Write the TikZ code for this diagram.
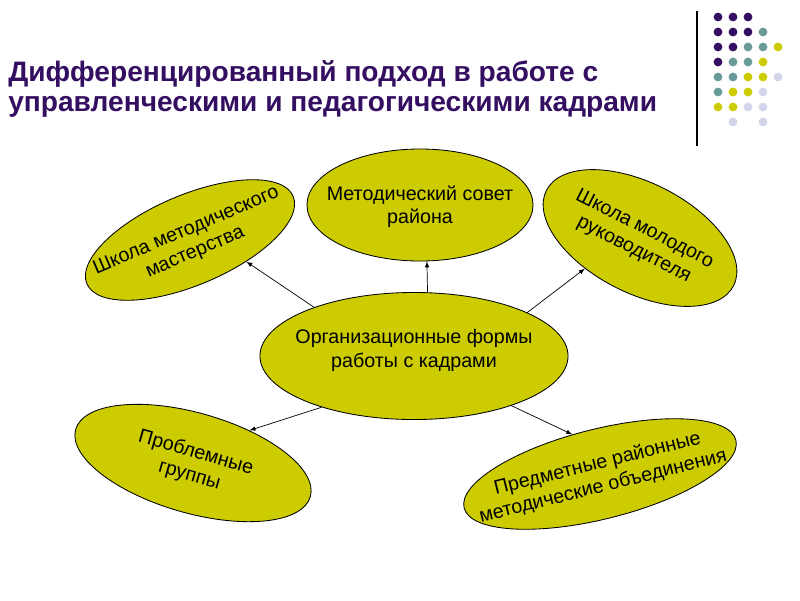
\documentclass[tikz,border=0pt]{standalone}
\usepackage{fontspec}
\setmainfont{Liberation Sans}
\usetikzlibrary{arrows,shapes,calc,positioning}
\definecolor{olive10}{RGB}{204, 204, 0}
\definecolor{purple10}{RGB}{52, 14, 96}
\definecolor{teal10}{RGB}{104, 154, 154}
\definecolor{lilac10}{RGB}{212, 212, 234}
\newcommand{\ovaltext}[2][-5pt]{\makebox[0pt]{\smash{\raisebox{#1}{\begin{tabular}{@{}c@{}}#2\end{tabular}}}}}
\tikzset{
  oval/.style={ellipse, draw=black, fill=olive10, line width=0.6pt, inner sep=0pt,
    font=\fontsize{14}{16.5}\selectfont},
  link/.style={->, >=latex, line width=0.5pt}
}

\begin{document}
\begin{tikzpicture}[x=0.025cm, y=-0.025cm]
  \useasboundingbox (0,0) rectangle (800,600);
  % title
  \node[anchor=west, inner sep=0pt, align=left, text=purple10,
    font=\bfseries\fontsize{20}{21.3}\selectfont] (title) at (8,89)
    {Дифференцированный подход в работе с\\управленческими и педагогическими кадрами};
  % corner decoration
  \draw[line width=1pt] (697,11) -- (697,146);
  \foreach \c/\r/\col in {0/0/purple10, 1/0/purple10, 2/0/purple10,
      0/1/purple10, 1/1/purple10, 2/1/purple10, 3/1/teal10,
      0/2/purple10, 1/2/purple10, 2/2/teal10, 3/2/teal10, 4/2/olive10,
      0/3/purple10, 1/3/teal10, 2/3/teal10, 3/3/olive10,
      0/4/teal10, 1/4/teal10, 2/4/olive10, 3/4/olive10, 4/4/lilac10,
      0/5/teal10, 1/5/olive10, 2/5/olive10, 3/5/lilac10,
      0/6/olive10, 1/6/olive10, 2/6/lilac10, 3/6/lilac10,
      1/7/lilac10, 3/7/lilac10}
    \fill[\col] (718+15*\c, 17+15*\r) circle[radius=0.11cm];
  % ovals
  \node[oval, minimum width=7.7cm, minimum height=3.175cm] (org) at (414,356)
    {\ovaltext[0pt]{Организационные формы\\работы с кадрами}};
  \node[oval, minimum width=5.65cm, minimum height=2.8cm] (mets) at (420,205)
    {\ovaltext{Методический совет\\района}};
  \node[oval, minimum width=5.6cm, minimum height=2.25cm, rotate=23] (shkm) at (190,240)
    {\ovaltext{Школа методического\\мастерства}};
  \node[oval, minimum width=5.25cm, minimum height=2.75cm, rotate=-27] (shmr) at (640,238)
    {\ovaltext{Школа молодого\\руководителя}};
  \node[oval, minimum width=6.1cm, minimum height=2.5cm, rotate=-16] (probl) at (193,463)
    {\ovaltext{Проблемные\\группы}};
  \node[oval, minimum width=7.0cm, minimum height=2.25cm, rotate=14] (pred) at (600,474)
    {\ovaltext{Предметные районные\\методические объединения}};
  % arrows
  \draw[link] (org.154) -- (shkm.-44);
  \draw[link] (org.78) -- (mets.-83);
  \draw[link] (org.21) -- (shmr.236);
  \draw[link] (org.209) -- (probl.46);
  \draw[link] (org.-27) -- (pred.111);
\end{tikzpicture}
\end{document}
